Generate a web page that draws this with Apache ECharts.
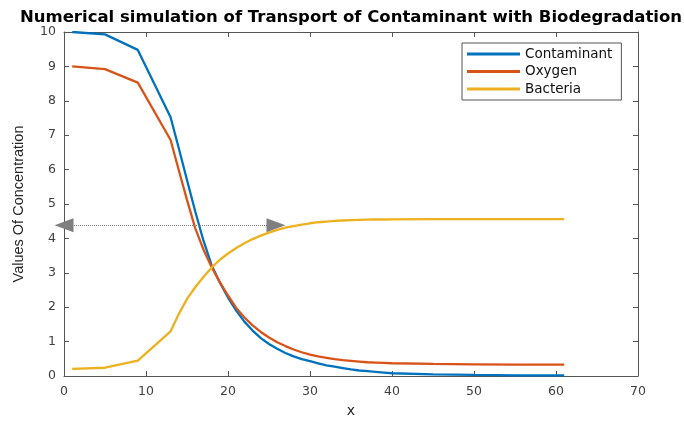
<!DOCTYPE html>
<html>
<head>
<meta charset="utf-8">
<script src="https://cdn.jsdelivr.net/npm/echarts@6/dist/echarts.min.js"></script>
<style>
html,body{margin:0;padding:0;background:#fff;}
#chart{width:684px;height:423px;}
</style>
</head>
<body>
<div id="chart"></div>
<script>
const titleText = 'Numerical simulation of Transport of Contaminant with Biodegradation';
const xName = 'x';
const yName = 'Values Of Concentration';
const seriesNames = ['Contaminant', 'Oxygen', 'Bacteria'];
const seriesColors = ['#0072BD', '#D95319', '#EDB120'];

const xs = [1, 5, 9, 13, 14, 15, 16, 17, 18, 19, 20, 21, 22, 23, 24, 25, 26, 27, 28, 29, 30,
            31, 32, 33, 34, 35, 36, 37, 38, 39, 40, 45, 50, 55, 61];
const contaminant = [10, 9.93, 9.48, 7.52, 6.62, 5.7, 4.79, 3.94, 3.22, 2.72, 2.28, 1.9, 1.58, 1.32, 1.1, 0.93, 0.79, 0.67, 0.57, 0.49, 0.43,
                     0.37, 0.31, 0.27, 0.23, 0.19, 0.16, 0.14, 0.12, 0.1, 0.08, 0.05, 0.03, 0.02, 0.02];
const oxygen = [9, 8.92, 8.53, 6.86, 5.98, 5.12, 4.3, 3.68, 3.17, 2.73, 2.34, 1.98, 1.7, 1.47, 1.28, 1.12, 0.98, 0.87, 0.77, 0.69, 0.62,
                0.57, 0.53, 0.49, 0.46, 0.44, 0.42, 0.4, 0.39, 0.38, 0.37, 0.35, 0.34, 0.33, 0.33];
const bacteria = [0.21, 0.24, 0.45, 1.3, 1.8, 2.24, 2.58, 2.88, 3.15, 3.38, 3.56, 3.72, 3.86, 3.98, 4.08, 4.17, 4.25, 4.31, 4.36, 4.4, 4.44,
                  4.47, 4.49, 4.51, 4.52, 4.53, 4.54, 4.545, 4.55, 4.55, 4.555, 4.56, 4.56, 4.56, 4.56];

// annotation: double arrow (dotted) at y level
const arrowY = 4.38;
const arrowFromX = 0;
const arrowToX = 25.85;

const xMin = 0, xMax = 70, xStep = 10;
const yMin = 0, yMax = 10, yStep = 1;

const valuesList = [contaminant, oxygen, bacteria];

const axisColor = '#555';
const labelColor = '#404040';

const chart = echarts.init(document.getElementById('chart'), null, {renderer: 'canvas'});

const series = seriesNames.map((name, i) => ({
  name: name,
  type: 'line',
  data: xs.map((x, j) => [x, valuesList[i][j]]),
  symbol: 'none',
  showSymbol: false,
  smooth: false,
  lineStyle: {color: seriesColors[i], width: 2.3},
  itemStyle: {color: seriesColors[i]},
  animation: false,
  z: 2 + i
}));

series.push({
  name: 'annotation',
  type: 'line',
  data: [],
  silent: true,
  clip: false,
  animation: false,
  markLine: {
    silent: true,
    animation: false,
    symbol: ['triangle', 'triangle'],
    symbolSize: [14, 19],
    label: {show: false},
    lineStyle: {color: '#7f7f7f', type: 'dotted', width: 1},
    emphasis: {disabled: true},
    data: [[{coord: [arrowFromX, arrowY]}, {coord: [arrowToX, arrowY]}]]
  },
  z: 10
});

const option = {
  animation: false,
  backgroundColor: '#ffffff',
  title: {
    text: titleText,
    left: 351,
    textAlign: 'center',
    top: 10,
    padding: 0,
    textStyle: {
      fontFamily: 'DejaVu Sans',
      fontWeight: 'bold',
      fontSize: 16.5,
      lineHeight: 16,
      color: '#000'
    }
  },
  grid: {left: 64, right: 46, top: 32, bottom: 41, containLabel: false},
  legend: {
    data: seriesNames.map(n => ({name: n, icon: 'rect'})),
    orient: 'vertical',
    left: 462,
    top: 43,
    padding: [4, 9, 4, 5],
    itemGap: 3.5,
    itemWidth: 53,
    itemHeight: 3,
    borderColor: '#555',
    borderWidth: 1,
    borderRadius: 0,
    backgroundColor: '#fff',
    textStyle: {fontFamily: 'DejaVu Sans', fontSize: 13.5, lineHeight: 14, color: '#111'}
  },
  xAxis: [{
    type: 'value',
    min: xMin, max: xMax, interval: xStep,
    name: xName,
    nameLocation: 'middle',
    nameGap: 28,
    nameTextStyle: {fontFamily: 'DejaVu Sans', fontSize: 14, color: '#262626'},
    axisLine: {show: true, lineStyle: {color: axisColor, width: 1}},
    axisTick: {show: true, inside: true, length: 5, lineStyle: {color: axisColor}},
    axisLabel: {fontFamily: 'DejaVu Sans', fontSize: 12.5, color: labelColor, margin: 9},
    splitLine: {show: false}
  }, {
    type: 'value',
    position: 'top',
    min: xMin, max: xMax, interval: xStep,
    axisLine: {show: true, onZero: false, lineStyle: {color: axisColor, width: 1}},
    axisTick: {show: true, inside: true, length: 5, lineStyle: {color: axisColor}},
    axisLabel: {show: false},
    splitLine: {show: false}
  }],
  yAxis: [{
    type: 'value',
    min: yMin, max: yMax, interval: yStep,
    name: yName,
    nameLocation: 'middle',
    nameGap: 38,
    nameTextStyle: {fontFamily: 'Liberation Sans', fontSize: 14.5, color: '#262626'},
    axisLine: {show: true, lineStyle: {color: axisColor, width: 1}},
    axisTick: {show: true, inside: true, length: 5, lineStyle: {color: axisColor}},
    axisLabel: {fontFamily: 'DejaVu Sans', fontSize: 12.5, color: labelColor, margin: 8},
    splitLine: {show: false}
  }, {
    type: 'value',
    position: 'right',
    min: yMin, max: yMax, interval: yStep,
    axisLine: {show: true, onZero: false, lineStyle: {color: axisColor, width: 1}},
    axisTick: {show: true, inside: true, length: 5, lineStyle: {color: axisColor}},
    axisLabel: {show: false},
    splitLine: {show: false}
  }],
  series: series
};

chart.setOption(option);
</script>
</body>
</html>
